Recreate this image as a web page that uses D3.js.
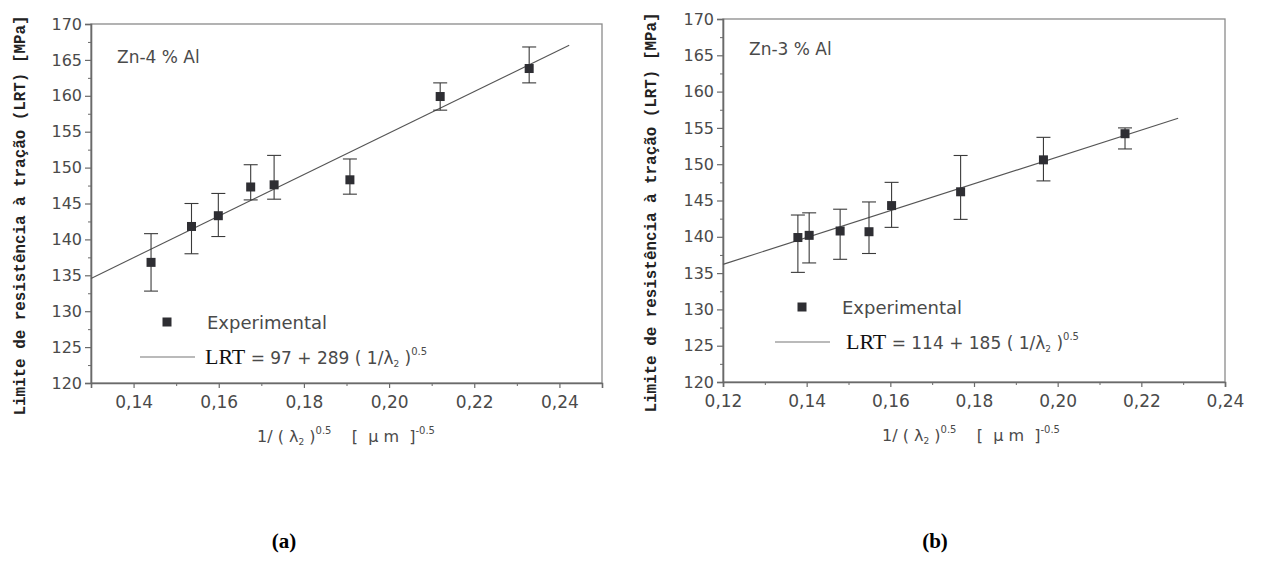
<!DOCTYPE html>
<html><head><meta charset="utf-8">
<script src="https://cdn.jsdelivr.net/npm/d3@7"></script>
<style>body{margin:0;background:#fff}svg{display:block}</style>
</head><body>
<svg id="c" width="1264" height="577"></svg>
<script>
// ---- Data ----
const titleA = "Zn-4 % Al";
const xA  = [0.1441, 0.1536, 0.1599, 0.1675, 0.1730, 0.1908, 0.2120, 0.2329];
const yA  = [136.8, 141.8, 143.3, 147.3, 147.6, 148.3, 159.9, 163.8];
const loA = [132.8, 138.0, 140.4, 145.5, 145.6, 146.3, 158.0, 161.8];
const hiA = [140.8, 145.0, 146.4, 150.4, 151.7, 151.2, 161.8, 166.8];
const fitA = [97, 289];          // LRT = a + b x
const fitRangeA = [0.13, 0.2423];
const xTicksA = [0.14, 0.16, 0.18, 0.20, 0.22, 0.24];
const xDomA = [0.13, 0.25];

const titleB = "Zn-3 % Al";
const xB  = [0.1379, 0.1406, 0.1480, 0.1549, 0.1603, 0.1768, 0.1966, 0.2161];
const yB  = [139.9, 140.2, 140.8, 140.7, 144.3, 146.2, 150.6, 154.2];
const loB = [135.1, 136.4, 136.9, 137.7, 141.3, 142.4, 147.7, 152.1];
const hiB = [143.0, 143.3, 143.8, 144.8, 147.5, 151.2, 153.7, 155.0];
const fitB = [114, 185];
const fitRangeB = [0.12, 0.2288];
const xTicksB = [0.12, 0.14, 0.16, 0.18, 0.20, 0.22, 0.24];
const xDomB = [0.12, 0.24];

const yTicks = [120, 125, 130, 135, 140, 145, 150, 155, 160, 165, 170];
const yDom = [120, 170];
const legendPoint = "Experimental";
const yTitle = "Limite de resistência à tração (LRT) [MPa]";
const captions = ["(a)", "(b)"];

const svg = d3.select("#c");
const AX = "#6a6a6a", TXT = "#4a4a4a", MK = "#2e2e33";
const SANS = "'DejaVu Sans', Arial, sans-serif";
const fmt = d => d3.format(".2f")(d).replace(".", ",");

function panel(o) {
  const g = svg.append("g");
  const x = d3.scaleLinear().domain(o.xDom).range([o.L, o.R]);
  const y = d3.scaleLinear().domain(yDom).range([o.B, o.T]);

  // frame
  g.append("rect").attr("x", o.L).attr("y", o.T).attr("width", o.R - o.L).attr("height", o.B - o.T)
    .attr("fill", "none").attr("stroke", "#8a8a8a").attr("stroke-width", 1.3);

  // y axis
  const ya = g.append("g").attr("transform", `translate(${o.L},0)`)
    .call(d3.axisLeft(y).tickValues(yTicks).tickSize(6).tickPadding(3).tickFormat(d3.format("d")));
  ya.select(".domain").attr("stroke", AX).attr("stroke-width", 1.6);
  ya.selectAll(".tick line").attr("stroke", AX).attr("stroke-width", 1.2);
  ya.selectAll("text").attr("font-family", SANS).attr("font-size", 16).attr("fill", TXT);
  const yMinor = d3.range(yDom[0] + 2.5, yDom[1], 5);
  g.append("g").attr("transform", `translate(${o.L},0)`)
    .call(d3.axisLeft(y).tickValues(yMinor).tickSize(3).tickFormat(""))
    .call(s => s.select(".domain").remove())
    .selectAll(".tick line").attr("stroke", AX).attr("stroke-width", 1);

  // x axis
  const xa = g.append("g").attr("transform", `translate(0,${o.B})`)
    .call(d3.axisBottom(x).tickValues(o.xTicks).tickSize(5).tickPadding(8).tickFormat(fmt));
  xa.select(".domain").attr("stroke", AX).attr("stroke-width", 1.6);
  xa.selectAll(".tick line").attr("stroke", AX).attr("stroke-width", 1.2);
  xa.selectAll("text").attr("font-family", SANS).attr("font-size", 17).attr("fill", TXT);
  const xMinor = o.xTicks.map(t => t - 0.01).filter(t => t > o.xDom[0] + 1e-9);
  if (o.xDom[1] - o.xTicks[o.xTicks.length - 1] > 0.005) xMinor.push(o.xTicks[o.xTicks.length - 1] + 0.01);
  g.append("g").attr("transform", `translate(0,${o.B})`)
    .call(d3.axisBottom(x).tickValues(xMinor).tickSize(3).tickFormat(""))
    .call(s => s.select(".domain").remove())
    .selectAll(".tick line").attr("stroke", AX).attr("stroke-width", 1);

  // y title
  g.append("text").attr("transform", `translate(${o.yTitleX},${(o.T + o.B) / 2 + 12}) rotate(-90)`)
    .attr("text-anchor", "middle").attr("font-family", "'Liberation Mono', 'Courier New', monospace")
    .attr("font-weight", "bold")
    .attr("font-size", 16).attr("fill", "#222").attr("textLength", 400).attr("lengthAdjust", "spacingAndGlyphs")
    .text(yTitle);

  // x title
  const xt = g.append("text").attr("x", o.xTitleX).attr("y", o.B + 59)
    .attr("font-family", SANS).attr("font-size", 16).attr("fill", TXT).attr("xml:space", "preserve");
  xt.append("tspan").text("1/ ( λ");
  xt.append("tspan").attr("font-size", 9).attr("dy", 3).text("2");
  xt.append("tspan").attr("dy", -3).text(" )");
  xt.append("tspan").attr("font-size", 10).attr("dy", -8).text("0.5");
  xt.append("tspan").attr("dy", 8).text("\u00a0\u00a0\u00a0\u00a0[\u00a0\u00a0μ\u00a0m\u00a0\u00a0]");
  xt.append("tspan").attr("font-size", 10).attr("dy", -8).text("-0.5");

  // panel title
  g.append("text").attr("x", o.L + 26).attr("y", o.T + o.titleDy)
    .attr("font-family", SANS).attr("font-size", 17).attr("fill", TXT)
    .text(o.title);

  // fit line
  g.append("line")
    .attr("x1", x(o.fitRange[0])).attr("y1", y(o.fit[0] + o.fit[1] * o.fitRange[0]))
    .attr("x2", x(o.fitRange[1])).attr("y2", y(o.fit[0] + o.fit[1] * o.fitRange[1]))
    .attr("stroke", "#555").attr("stroke-width", 1.1);

  // error bars
  const idx = d3.range(o.xs.length);
  const eb = g.append("g").attr("stroke", "#3a3a3a").attr("stroke-width", 1.1);
  eb.selectAll("line.v").data(idx).join("line")
    .attr("x1", i => x(o.xs[i])).attr("x2", i => x(o.xs[i]))
    .attr("y1", i => y(o.lo[i])).attr("y2", i => y(o.hi[i]));
  eb.selectAll("line.t").data(idx).join("line")
    .attr("x1", i => x(o.xs[i]) - 7).attr("x2", i => x(o.xs[i]) + 7)
    .attr("y1", i => y(o.hi[i])).attr("y2", i => y(o.hi[i]));
  eb.selectAll("line.b").data(idx).join("line")
    .attr("x1", i => x(o.xs[i]) - 7).attr("x2", i => x(o.xs[i]) + 7)
    .attr("y1", i => y(o.lo[i])).attr("y2", i => y(o.lo[i]));

  // markers
  const s = 9;
  g.selectAll("rect.m").data(idx).join("rect")
    .attr("x", i => x(o.xs[i]) - s / 2).attr("y", i => y(o.ys[i]) - s / 2)
    .attr("width", s).attr("height", s).attr("fill", MK);

  // legend
  g.append("rect").attr("x", o.legX - 4.5).attr("y", o.legY - 4.5).attr("width", 9).attr("height", 9).attr("fill", MK);
  g.append("text").attr("x", o.legX + 40).attr("y", o.legY + 7)
    .attr("font-family", SANS).attr("font-size", 18).attr("fill", TXT)
    .text(legendPoint);
  g.append("line").attr("x1", o.legX - 27).attr("x2", o.legX + 28).attr("y1", o.legY + 35).attr("y2", o.legY + 35)
    .attr("stroke", "#777").attr("stroke-width", 1.1);
  const lt = g.append("text").attr("x", o.legX + o.lrtDx).attr("y", o.legY + 42).attr("fill", TXT)
    .attr("font-family", SANS).attr("font-size", 17).attr("xml:space", "preserve");
  lt.append("tspan").attr("font-family", "'Liberation Serif', 'Times New Roman', serif").attr("font-size", 22).attr("fill", "#111").text("LRT");
  lt.append("tspan").text(` = ${o.fit[0]} + ${o.fit[1]} ( 1/λ`);
  lt.append("tspan").attr("font-size", 9).attr("dy", 3).text("2");
  lt.append("tspan").attr("dy", -3).text("\u00a0)");
  lt.append("tspan").attr("font-size", 10).attr("dy", -9).text("0.5");

  // caption
  svg.append("text").attr("x", o.capX).attr("y", 548).attr("text-anchor", "middle")
    .attr("font-family", "'Liberation Serif', 'Times New Roman', serif").attr("font-weight", "bold")
    .attr("font-size", 21).attr("fill", "#000").text(o.cap);
}

panel({ L: 91, R: 602, T: 24, B: 383, xDom: xDomA, xTicks: xTicksA, xs: xA, ys: yA, lo: loA, hi: hiA,
  fit: fitA, fitRange: fitRangeA, title: titleA, titleDy: 39, yTitleX: 25, xTitleX: 257, legX: 167, legY: 322,
  lrtDx: 38, capX: 284, cap: captions[0] });
panel({ L: 723, R: 1225, T: 19, B: 382, xDom: xDomB, xTicks: xTicksB, xs: xB, ys: yB, lo: loB, hi: hiB,
  fit: fitB, fitRange: fitRangeB, title: titleB, titleDy: 36, yTitleX: 656, xTitleX: 882, legX: 802, legY: 307,
  lrtDx: 44, capX: 935, cap: captions[1] });
</script>
</body></html>
